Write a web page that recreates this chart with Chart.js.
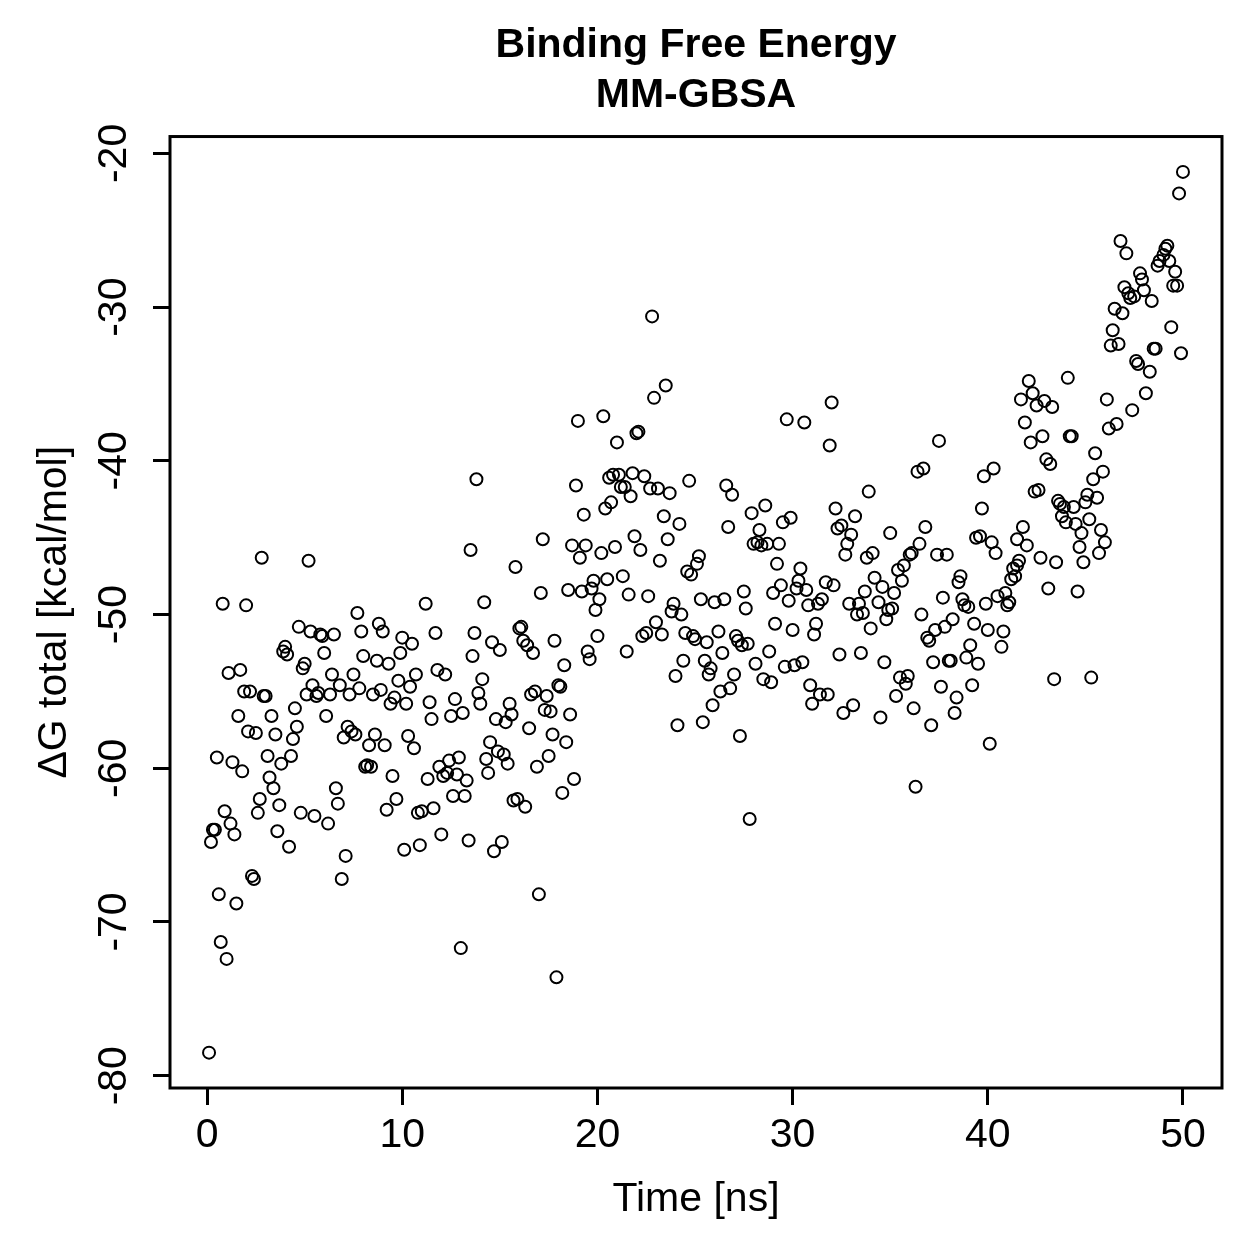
<!DOCTYPE html>
<html>
<head>
<meta charset="utf-8">
<title>Binding Free Energy MM-GBSA</title>
<script src="https://cdn.jsdelivr.net/npm/chart.js@4.4.1/dist/chart.umd.min.js"></script>
<style>
  html, body { margin: 0; padding: 0; background: #ffffff; }
  canvas { display: block; }
</style>
</head>
<body>
<canvas id="chart" width="1259" height="1259"></canvas>
<script>
// Simulation time of each frame (ns)
const timeNs = [
  0.1,0.2,0.3,0.4,0.5,0.6,0.7,0.8,0.9,1.0,
  1.1,1.2,1.3,1.4,1.5,1.6,1.7,1.8,1.9,2.0,
  2.1,2.2,2.3,2.4,2.5,2.6,2.7,2.8,2.9,3.0,
  3.1,3.2,3.3,3.4,3.5,3.6,3.7,3.8,3.9,4.0,
  4.1,4.2,4.3,4.4,4.5,4.6,4.7,4.8,4.9,5.0,
  5.1,5.2,5.3,5.4,5.5,5.6,5.7,5.8,5.9,6.0,
  6.1,6.2,6.3,6.4,6.5,6.6,6.7,6.8,6.9,7.0,
  7.1,7.2,7.3,7.4,7.5,7.6,7.7,7.8,7.9,8.0,
  8.1,8.2,8.3,8.4,8.5,8.6,8.7,8.8,8.9,9.0,
  9.1,9.2,9.3,9.4,9.5,9.6,9.7,9.8,9.9,10.0,
  10.1,10.2,10.3,10.4,10.5,10.6,10.7,10.8,11.0,10.9,
  11.2,11.3,11.4,11.5,11.6,11.7,11.8,11.9,12.0,
  12.1,12.2,12.3,12.4,12.5,12.6,12.7,12.8,12.9,13.0,
  13.1,13.2,13.3,13.4,13.5,13.6,13.7,13.8,13.9,14.0,
  14.1,14.2,14.3,14.4,14.5,14.6,14.7,14.8,14.9,15.0,
  15.1,15.2,15.3,15.4,15.5,15.6,15.7,15.8,15.9,16.0,
  16.1,16.2,16.3,16.4,16.5,16.6,16.7,16.8,16.9,17.0,
  17.1,17.2,17.3,17.4,17.5,17.6,17.7,17.8,17.9,18.0,
  18.1,18.2,18.3,18.4,18.5,18.6,18.7,18.8,18.9,19.0,
  19.1,19.2,19.3,19.4,19.5,19.6,19.7,19.8,19.9,20.0,
  20.1,20.2,20.3,20.4,20.5,20.6,20.7,20.8,20.9,21.0,
  21.1,21.2,21.3,21.4,21.5,21.6,21.7,21.8,21.9,22.0,
  22.1,22.2,22.3,22.4,22.5,22.6,22.7,22.8,22.9,23.0,
  23.1,23.2,23.3,23.4,23.5,23.6,23.7,23.8,23.9,24.0,
  24.1,24.2,24.3,24.4,24.5,24.6,24.7,24.8,24.9,25.0,
  25.1,25.2,25.3,25.4,25.5,
  25.6,25.7,25.8,25.9,26.0,26.2,26.3,26.4,26.5,26.6,
  26.7,26.8,26.9,27.0,27.1,27.2,27.3,27.4,27.5,27.6,
  27.7,27.8,27.9,28.0,28.1,28.2,28.3,28.4,28.5,28.6,
  28.7,28.8,28.9,29.0,29.1,29.2,29.3,29.4,29.5,29.6,
  29.7,29.8,29.9,30.0,30.1,30.2,30.3,30.4,30.5,30.6,
  30.7,30.8,30.9,31.0,31.1,31.2,31.3,31.4,31.5,31.7,
  31.8,31.9,32.0,32.1,32.2,32.3,32.4,32.5,32.6,32.7,
  32.8,32.9,33.0,33.1,33.2,33.3,33.4,33.5,33.6,33.7,
  33.8,33.9,34.0,34.1,34.2,34.4,34.5,34.6,34.7,34.8,
  34.9,35.0,35.1,35.2,35.3,35.4,35.5,35.6,35.7,35.8,
  35.9,36.0,36.1,36.2,36.3,36.4,36.5,36.6,36.7,36.8,
  36.9,37.0,37.1,37.2,37.3,37.4,37.5,37.6,37.7,37.8,
  37.9,38.0,38.1,38.2,38.3,38.4,38.5,38.6,
  38.7,38.8,38.9,39.0,39.1,39.2,39.3,39.4,39.5,39.6,
  39.7,39.8,39.9,40.0,40.1,40.2,40.3,40.4,40.5,40.7,
  40.8,40.9,41.0,41.1,41.2,41.3,41.4,41.5,41.5,41.6,
  41.7,41.8,41.9,42.0,42.1,42.2,42.3,42.4,42.5,42.6,
  42.7,42.8,42.9,43.0,43.1,43.2,43.3,43.4,43.5,43.6,
  43.7,43.8,43.9,44.0,44.1,44.2,44.3,44.4,44.5,44.6,
  44.7,44.8,44.9,45.0,45.1,45.2,45.3,45.4,45.5,45.6,
  45.7,45.8,45.9,46.0,46.1,46.2,46.3,46.4,46.5,46.6,
  46.7,46.8,46.9,47.0,47.1,47.2,47.3,47.4,47.5,47.6,
  47.7,47.8,47.9,48.0,48.1,48.3,48.4,48.5,48.6,48.7,
  48.8,49.0,49.1,49.2,49.3,49.4,49.5,49.6,49.7,49.8,
  49.9,50.0
];

// ΔG total (kcal/mol) for each frame, same order as timeNs
const deltaG = [
  -78.5,-64.8,-64.0,-64.0,-59.3,-68.2,-71.3,-49.3,-62.8,-72.4,
  -53.8,-63.6,-59.6,-64.3,-68.8,-56.6,-53.6,-60.2,-55.0,-49.4,
  -57.6,-55.0,-67.0,-67.2,-57.7,-62.9,-62.0,-46.3,-55.3,-55.3,
  -59.2,-60.6,-56.6,-61.3,-57.8,-64.1,-62.4,-59.7,-52.4,-52.1,
  -52.6,-65.1,-59.2,-58.1,-56.1,-57.3,-50.8,-62.9,-53.5,-53.2,
  -55.2,-46.5,-51.1,-54.6,-63.1,-55.3,-55.1,-51.3,-51.4,-52.5,
  -56.6,-63.6,-55.2,-53.9,-51.3,-61.3,-62.3,-54.6,-67.2,-58.0,
  -65.7,-57.3,-55.2,-57.6,-53.9,-57.8,-49.9,-54.8,-51.1,-52.7,
  -59.9,-59.8,-58.5,-59.9,-55.2,-57.8,-53.0,-50.6,-54.9,-51.1,
  -58.5,-62.7,-53.2,-55.8,-60.5,-55.4,-62.0,-54.3,-52.5,-51.5,
  -65.3,-55.8,-57.9,-54.7,-51.9,-58.7,-53.9,-62.9,-62.8,-65.0,
  -49.3,-60.7,-55.7,-56.8,-62.6,-51.2,-53.6,-59.9,-64.3,
  -60.5,-53.9,-60.3,-59.5,-56.6,-61.8,-55.5,-60.4,-59.3,-71.7,
  -56.4,-61.8,-60.8,-64.7,-45.8,-52.7,-51.2,-41.2,-55.1,-55.8,
  -54.2,-49.2,-59.4,-60.3,-58.3,-51.8,-65.4,-56.8,-58.9,-52.3,
  -64.8,-59.1,-57.0,-59.7,-55.8,-56.5,-62.1,-46.9,-62.0,-50.9,
  -50.8,-51.7,-62.5,-52.0,-57.4,-55.2,-52.5,-55.0,-59.9,-68.2,
  -48.6,-45.1,-56.2,-55.3,-59.2,-56.3,-57.8,-51.7,-73.6,-54.6,
  -54.7,-61.6,-53.3,-58.3,-48.4,-56.5,-45.5,-60.7,-41.6,-37.4,
  -46.3,-48.5,-43.5,-45.5,-52.4,-52.9,-48.3,-47.8,-49.7,-51.4,
  -49.0,-46.0,-37.1,-43.1,-47.7,-41.1,-42.7,-40.9,-45.6,-38.8,
  -40.9,-41.7,-47.5,-41.7,-52.4,-48.7,-42.3,-40.8,-44.9,-38.2,
  -38.1,-45.8,-51.4,-41.0,-51.2,-48.8,-41.8,-30.6,-35.9,-50.5,
  -41.8,-46.5,-51.3,-43.6,-35.1,-45.1,-42.1,-49.8,-49.3,-54.0,
  -57.2,-44.1,-50.0,-53.0,-51.2,-47.2,-41.3,-47.4,-51.4,-51.6,
  -46.7,-46.2,-49.0,-57.0,-53.0,
  -51.8,-53.9,-53.5,-55.9,-49.2,-51.1,-55.0,-52.5,-49.0,-41.6,
  -44.3,-54.8,-42.2,-53.9,-51.4,-51.7,-57.9,-52.0,-48.5,-49.6,
  -51.9,-63.3,-43.4,-45.4,-53.2,-45.3,-44.5,-45.5,-54.2,-42.9,
  -45.4,-52.4,-54.4,-48.6,-50.6,-46.7,-45.4,-48.1,-44.0,-53.4,
  -37.3,-49.1,-43.7,-51.0,-53.3,-48.3,-47.8,-47.0,-53.1,-37.5,
  -48.4,-49.4,-54.6,-55.8,-51.3,-50.6,-49.3,-55.2,-49.0,-47.9,
  -55.2,-39.0,-36.2,-48.1,-43.1,-44.4,-52.6,-44.2,-56.4,-46.1,
  -45.4,-49.3,-44.8,-55.9,-43.6,-50.0,-49.3,-52.5,-49.9,-48.5,
  -46.3,-42.0,-50.9,-46.0,-47.6,-49.2,-56.7,-48.2,-53.1,-50.3,
  -49.7,-44.7,-49.6,-48.6,-55.3,-47.1,-54.1,-47.8,-46.8,-54.5,
  -54.0,-46.1,-46.0,-56.1,-61.2,-40.7,-45.4,-50.0,-40.5,-44.3,
  -51.5,-51.7,-57.2,-53.1,-51.0,-46.1,-38.7,-54.7,-48.9,-50.8,
  -46.1,-53.0,-53.0,-50.3,-56.4,-55.4,-47.9,-47.5,
  -49.0,-49.4,-52.8,-49.5,-52.0,-54.6,-50.6,-45.0,-53.2,-44.9,
  -43.1,-41.0,-49.3,-51.0,-58.4,-45.3,-40.5,-46.0,-48.8,-52.1,
  -51.1,-48.6,-49.4,-49.2,-47.7,-47.0,-47.5,-46.8,-45.1,-46.5,
  -36.0,-44.3,-37.5,-45.5,-34.8,-38.8,-35.6,-42.0,-36.4,-41.9,
  -46.3,-38.4,-36.1,-39.9,-48.3,-40.2,-36.5,-54.2,-46.6,-42.6,
  -42.8,-43.6,-43.0,-44.0,-34.6,-38.4,-38.4,-43.0,-44.1,-48.5,
  -45.6,-44.7,-46.6,-42.7,-42.2,-43.8,-54.1,-41.2,-39.5,-42.4,
  -46.0,-44.5,-40.7,-45.3,-36.0,-37.9,-32.5,-31.5,-30.1,-37.6,
  -32.4,-25.7,-30.4,-28.7,-26.5,-29.1,-29.4,-36.7,-29.3,-33.5,
  -33.7,-27.8,-28.2,-28.9,-35.6,-34.2,-29.6,-32.7,-32.7,-27.3,
  -27.0,-26.6,-26.2,-26.0,-27.0,-31.3,-28.6,-27.7,-28.6,-22.6,
  -33.0,-21.2
];

const xTicks = [0, 10, 20, 30, 40, 50];
const yTicks = [-80, -70, -60, -50, -40, -30, -20];
const titleLines = ["Binding Free Energy", "MM-GBSA"];
const xLabel = "Time [ns]";
const yLabel = "ΔG total [kcal/mol]";

const FONT = "'Liberation Sans', Arial, Helvetica, sans-serif";
const points = timeNs.map((t, i) => ({ x: t, y: deltaG[i] }));

// R-style extras: full box around the plot and y tick labels turned 90°
const rStylePlugin = {
    id: "rStyle",
    afterDraw(chart) {
        const { ctx, chartArea: a } = chart;
        const yScale = chart.scales.y;
        ctx.save();
        ctx.strokeStyle = "#000";
        ctx.lineWidth = 3;
        ctx.strokeRect(a.left, a.top, a.right - a.left, a.bottom - a.top);

        ctx.fillStyle = "#000";
        ctx.font = `41px ${FONT}`;
        ctx.textAlign = "center";
        ctx.textBaseline = "middle";
        yScale.ticks.forEach(tick => {
            const py = yScale.getPixelForValue(tick.value);
            ctx.save();
            ctx.translate(115, py);
            ctx.rotate(-Math.PI / 2);
            ctx.fillText(String(tick.value), 0, 0);
            ctx.restore();
        });
        ctx.restore();
    }
};

const tickGrid = {
    drawOnChartArea: false,
    drawTicks: true,
    tickLength: 17,
    tickWidth: 3,
    tickColor: "#000"
};

new Chart(document.getElementById("chart"), {
    type: "scatter",
    data: {
        datasets: [{
            data: points,
            pointStyle: "circle",
            pointRadius: 6,
            pointBorderWidth: 2,
            pointBackgroundColor: "rgba(0,0,0,0)",
            pointBorderColor: "#000",
            showLine: false
        }]
    },
    options: {
        responsive: false,
        animation: false,
        events: [],
        layout: { padding: { left: 0, right: 37, top: 0, bottom: 0 } },
        plugins: {
            legend: { display: false },
            tooltip: { enabled: false },
            title: {
                display: true,
                text: titleLines,
                fullSize: false,
                color: "#000",
                font: { family: FONT, size: 41, weight: "bold", lineHeight: 1.22 },
                padding: { top: 20.5, bottom: 16 }
            }
        },
        scales: {
            x: {
                type: "linear",
                min: -1.9,
                max: 52.0,
                afterBuildTicks: s => { s.ticks = xTicks.map(v => ({ value: v })); },
                afterFit: s => { s.height = 171; },
                grid: tickGrid,
                border: { display: false },
                ticks: {
                    color: "#000",
                    font: { family: FONT, size: 41 },
                    padding: 6,
                    maxRotation: 0,
                    autoSkip: false
                },
                title: {
                    display: true,
                    text: xLabel,
                    color: "#000",
                    font: { family: FONT, size: 41, lineHeight: 1.2 },
                    padding: { top: 0, bottom: 34.4 }
                }
            },
            y: {
                type: "linear",
                min: -80.8,
                max: -18.9,
                afterBuildTicks: s => { s.ticks = yTicks.map(v => ({ value: v })); },
                afterFit: s => { s.width = 170; },
                grid: tickGrid,
                border: { display: false },
                ticks: { display: false },
                title: {
                    display: true,
                    text: yLabel,
                    color: "#000",
                    font: { family: FONT, size: 41, lineHeight: 1.2 },
                    padding: { top: 30.4, bottom: 0 }
                }
            }
        }
    },
    plugins: [rStylePlugin]
});
</script>
</body>
</html>
